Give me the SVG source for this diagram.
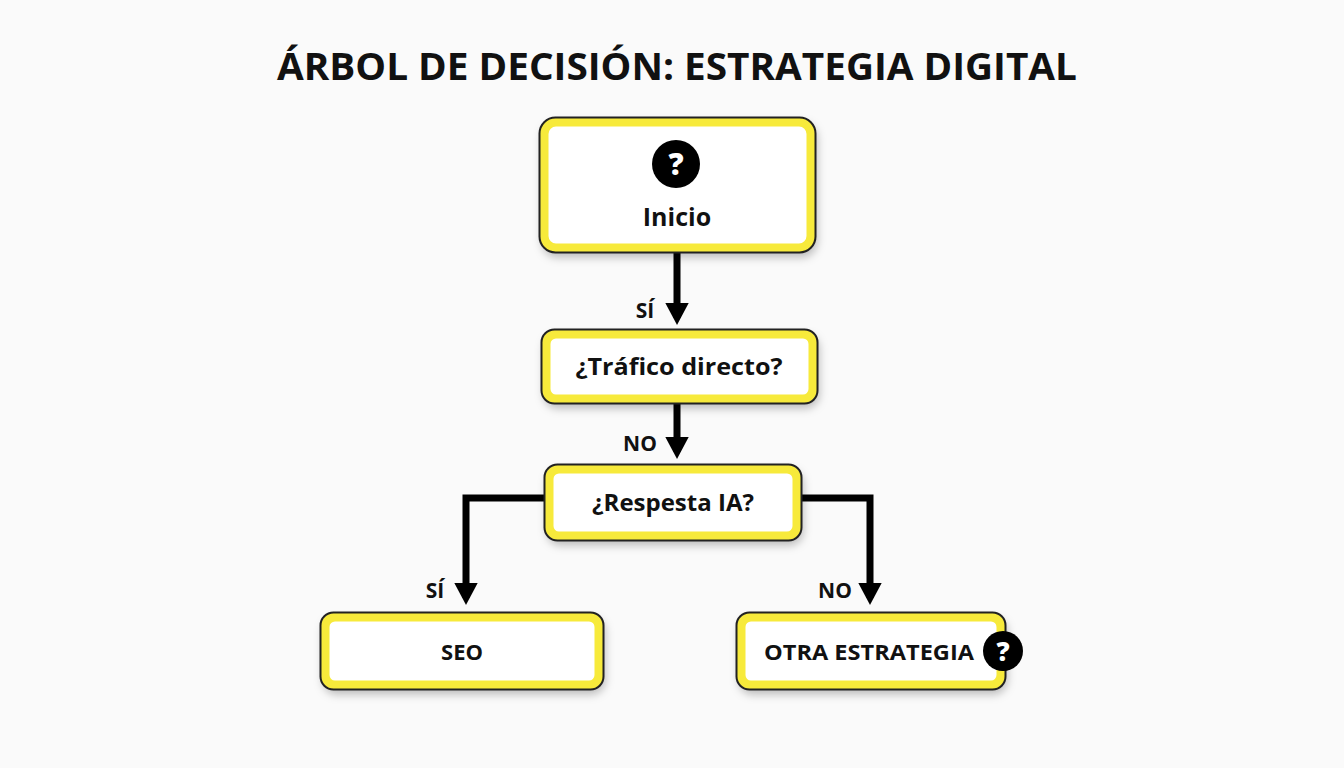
<svg xmlns="http://www.w3.org/2000/svg" width="1344" height="768" viewBox="0 0 1344 768">
<defs>
<filter id="sh" x="-10%" y="-10%" width="130%" height="140%"><feDropShadow dx="2" dy="5" stdDeviation="4" flood-color="#000" flood-opacity="0.25"/></filter>
<marker id="ah" markerWidth="4" markerHeight="4" refX="2.2" refY="2" orient="auto" markerUnits="strokeWidth"><path d="M0,0.3 L3.2,2 L0,3.7 Z" fill="#000"/></marker>
</defs>
<style>
.box{fill:#fff;stroke:#f7ea3a;stroke-width:9;filter:url(#sh)}
.out{fill:none;stroke:#222;stroke-width:2}
.t{font-family:"Open Sans","Liberation Sans",sans-serif;font-weight:700;fill:#111;text-anchor:middle}
.c{fill:none;stroke:#000;stroke-width:7;marker-end:url(#ah)}
.q{fill:#fff;font-family:"Open Sans","Liberation Sans",sans-serif;font-weight:800;text-anchor:middle}
</style>
<rect width="1344" height="768" fill="#fafafa"/>
<text class="t" x="677" y="80" font-size="38" textLength="800" lengthAdjust="spacingAndGlyphs">ÁRBOL DE DECISIÓN: ESTRATEGIA DIGITAL</text>
<g id="connectors">
<path class="c" d="M677,253 V318"/>
<path class="c" d="M677,404 V452"/>
<path class="c" d="M545,498 H466 V598"/>
<path class="c" d="M801,498 H870 V598"/>
<text class="t" x="645" y="318" font-size="21">SÍ</text>
<text class="t" x="640" y="451" font-size="21">NO</text>
<text class="t" x="435" y="598" font-size="21">SÍ</text>
<text class="t" x="835" y="598" font-size="21">NO</text>
</g>
<g id="inicio">
<rect class="box" x="544" y="122" width="267" height="126" rx="12"/>
<rect class="out" x="539.5" y="117.5" width="276" height="135" rx="16"/>
<circle cx="676" cy="164" r="24" fill="#000"/>
<text class="q" x="676" y="175" font-size="30">?</text>
<text class="t" x="677" y="226" font-size="25" font-weight="600">Inicio</text>
</g>
<g id="trafico">
<rect class="box" x="546" y="334" width="267" height="65" rx="10"/>
<rect class="out" x="541.5" y="329.5" width="276" height="74" rx="13"/>
<text class="t" x="679" y="375" font-size="24" font-weight="600" textLength="207" lengthAdjust="spacingAndGlyphs">¿Tráfico directo?</text>
</g>
<g id="respesta">
<rect class="box" x="549" y="469" width="248" height="67" rx="10"/>
<rect class="out" x="544.5" y="464.5" width="257" height="76" rx="13"/>
<text class="t" x="673" y="511" font-size="24" font-weight="600">¿Respesta IA?</text>
</g>
<g id="seo">
<rect class="box" x="325" y="617" width="274" height="68" rx="10"/>
<rect class="out" x="320.5" y="612.5" width="283" height="77" rx="13"/>
<text class="t" x="462" y="660" font-size="22" font-weight="600">SEO</text>
</g>
<g id="otra">
<rect class="box" x="741" y="617" width="260" height="68" rx="10"/>
<rect class="out" x="736.5" y="612.5" width="269" height="77" rx="13"/>
<text class="t" x="869" y="660" font-size="22" font-weight="600" textLength="210" lengthAdjust="spacingAndGlyphs">OTRA ESTRATEGIA</text>
<circle cx="1003" cy="651" r="20" fill="#000"/>
<text class="q" x="1003" y="661" font-size="26">?</text>
</g>
</svg>
